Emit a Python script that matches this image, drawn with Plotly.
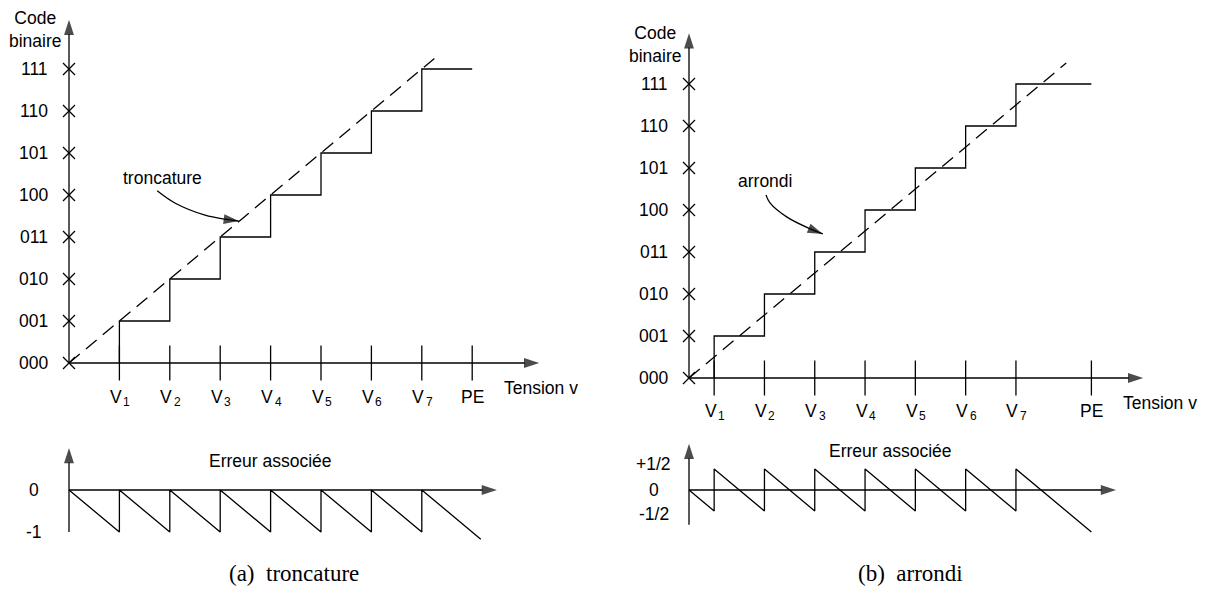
import plotly.graph_objects as go

# ---------------- data ----------------
code_labels = ["000", "001", "010", "011", "100", "101", "110", "111"]
code_levels = [0, 1, 2, 3, 4, 5, 6, 7]
thr_names = ["V", "V", "V", "V", "V", "V", "V", "PE"]
thr_index = ["1", "2", "3", "4", "5", "6", "7", ""]
thr_trunc = [1, 2, 3, 4, 5, 6, 7, 8]
thr_round = [0.5, 1.5, 2.5, 3.5, 4.5, 5.5, 6.5, 8]
ideal_trunc = [0, 7.25]
ideal_round = [0, 7.5]
err_trunc_x = [0, 1, 1, 2, 2, 3, 3, 4, 4, 5, 5, 6, 6, 7, 7, 8.17]
err_trunc_y = [0, -1, 0, -1, 0, -1, 0, -1, 0, -1, 0, -1, 0, -1, 0, -1.17]
err_round_x = [0, 0.5, 0.5, 1.5, 1.5, 2.5, 2.5, 3.5, 3.5, 4.5, 4.5, 5.5, 5.5, 6.5, 6.5, 8.0]
err_round_y = [0, -0.5, 0.5, -0.5, 0.5, -0.5, 0.5, -0.5, 0.5, -0.5, 0.5, -0.5, 0.5, -0.5, 0.5, -1.0]
err_trunc_labels = ["0", "-1"]
err_trunc_levels = [0, -1]
err_round_labels = ["+1/2", "0", "-1/2"]
err_round_levels = [0.5, 0, -0.5]
# callout paths (data units), last point = arrow tip
callout_trunc_x = [1.75, 2.10, 2.70, 3.12, 3.37]
callout_trunc_y = [4.10, 3.81, 3.52, 3.42, 3.38]
callout_round_x = [1.53, 1.61, 1.95, 2.41, 2.66]
callout_round_y = [4.36, 4.17, 3.83, 3.55, 3.43]

# ---------------- layout helpers ----------------
OFF = 8                      # page body margin of the html page
W, H = 1206 - OFF, 591 - OFF
FONT = "Liberation Sans, Arial, sans-serif"
SERIF = "Liberation Serif, Times New Roman, serif"
FS = 17.5
LW = 1.3
HEAD = 16


def xdom(origin, unit, rng):
    o = origin - OFF
    return [(o + rng[0] * unit) / W, (o + rng[1] * unit) / W]


def ydom(origin, unit, rng):
    o = origin - OFF
    top = o - rng[1] * unit
    bot = o - rng[0] * unit
    return [1 - bot / H, 1 - top / H]


panels = {
    # name: (x origin px, x unit, y origin px, y unit, xrange, yrange)   (screen px)
    "1": (69, 50.4, 363, 42, [-0.8, 9.95], [-1.0, 8.4]),    # left main
    "2": (69, 50.4, 490, 42, [-0.8, 9.95], [-2.3, 1.3]),    # left error
    "3": (689, 50.3, 378, 42, [-0.8, 9.95], [-1.0, 8.4]),   # right main
    "4": (689, 50.3, 490, 42, [-0.8, 9.95], [-2.3, 1.3]),   # right error
}

fig = go.Figure()
layout_axes = {}
for k, (xo, xu, yo, yu, xr, yr) in panels.items():
    xn = "xaxis" if k == "1" else f"xaxis{k}"
    yn = "yaxis" if k == "1" else f"yaxis{k}"
    layout_axes[xn] = dict(domain=xdom(xo, xu, xr), range=xr, visible=False,
                           anchor="y" if k == "1" else f"y{k}", fixedrange=True)
    layout_axes[yn] = dict(domain=ydom(yo, yu, yr), range=yr, visible=False,
                           anchor="x" if k == "1" else f"x{k}", fixedrange=True)

annotations = []


def ref(k):
    return ("x", "y") if k == "1" else (f"x{k}", f"y{k}")


def arrow_line(k, xs, ys, shape="linear"):
    xr, yr = ref(k)
    sizes = [0] * (len(xs) - 1) + [HEAD]
    fig.add_trace(go.Scatter(x=xs, y=ys, mode="lines+markers", line_shape=shape,
                             line=dict(color="black", width=LW),
                             marker=dict(symbol="arrow", angleref="previous", size=sizes,
                                         color="black", line=dict(width=0)),
                             xaxis=xr, yaxis=yr, showlegend=False, hoverinfo="skip",
                             cliponaxis=False))


def text(k, x, y, s, size=FS, xanchor="center", font=FONT, xshift=0, yshift=0):
    xr, yr = ref(k)
    annotations.append(dict(x=x, y=y, xref=xr, yref=yr, text=s, showarrow=False,
                            xanchor=xanchor, yanchor="middle", xshift=xshift, yshift=yshift,
                            font=dict(family=font, size=size, color="black")))


def main_panel(k, thr, ideal, ytip, xtip, vlab_y, callx, cally, call_text, call_pos):
    xr, yr = ref(k)
    # staircase
    fig.add_trace(go.Scatter(x=thr, y=code_levels, mode="lines", line_shape="vh",
                             line=dict(color="black", width=LW), xaxis=xr, yaxis=yr,
                             showlegend=False, hoverinfo="skip"))
    # ideal line
    fig.add_trace(go.Scatter(x=ideal, y=ideal, mode="lines",
                             line=dict(color="black", width=LW, dash="14px,8px"),
                             xaxis=xr, yaxis=yr, showlegend=False, hoverinfo="skip"))
    # axes with arrows
    arrow_line(k, [0, 0], [0, ytip])
    arrow_line(k, [0, xtip], [0, 0])
    # cross markers on y axis
    fig.add_trace(go.Scatter(x=[0] * len(code_levels), y=code_levels, mode="markers",
                             marker=dict(symbol="x-thin", size=12, line=dict(color="black", width=LW)),
                             xaxis=xr, yaxis=yr, showlegend=False, hoverinfo="skip", cliponaxis=False))
    # ticks on x axis
    fig.add_trace(go.Scatter(x=thr, y=[0] * len(thr), mode="markers",
                             marker=dict(symbol="line-ns", size=25, line=dict(color="black", width=LW)),
                             xaxis=xr, yaxis=yr, showlegend=False, hoverinfo="skip", cliponaxis=False))
    for lab, lv in zip(code_labels, code_levels):
        text(k, -0.38, lv, lab, xanchor="right")
    for name, idx, v in zip(thr_names, thr_index, thr):
        if idx:
            text(k, v, vlab_y, name, xshift=-3.5)
            text(k, v, vlab_y, idx, size=12, xanchor="left", xshift=2, yshift=-5)
        else:
            text(k, v, vlab_y, name)
    text(k, -0.67, 8.0, "Code<br>binaire", yshift=-2)
    text(k, 9.37, -0.6, "Tension v")
    # callout
    arrow_line(k, callx, cally, shape="spline")
    text(k, call_pos[0], call_pos[1], call_text)


def err_panel(k, ex, ey, labels, levels, shifts, ybot, ytop, title_y, caption, cap_x):
    xr, yr = ref(k)
    fig.add_trace(go.Scatter(x=ex, y=ey, mode="lines", line=dict(color="black", width=LW),
                             xaxis=xr, yaxis=yr, showlegend=False, hoverinfo="skip"))
    arrow_line(k, [0, 0], [ybot, ytop])
    arrow_line(k, [0, 8.49], [0, 0])
    for lab, lv, sh in zip(labels, levels, shifts):
        text(k, -0.7, lv, lab, yshift=sh)
    text(k, 4.0, title_y, "Erreur associée")
    text(k, cap_x, -1.98, caption, size=23, font=SERIF)


main_panel("1", thr_trunc, ideal_trunc, 8.17, 9.33, -0.82,
           callout_trunc_x, callout_trunc_y, "troncature", (1.85, 4.4))
main_panel("3", thr_round, ideal_round, 8.21, 9.03, -0.78,
           callout_round_x, callout_round_y, "arrondi", (1.51, 4.69))
err_panel("2", err_trunc_x, err_trunc_y, err_trunc_labels, err_trunc_levels, [0, 0],
          -1.0, 1.0, 0.69, "(a)  troncature", 4.46)
err_panel("4", err_round_x, err_round_y, err_round_labels, err_round_levels, [5, 0, -3],
          -0.83, 1.1, 0.93, "(b)  arrondi", 4.41)

fig.update_layout(width=W, height=H, margin=dict(l=0, r=0, t=0, b=0, pad=0),
                  paper_bgcolor="white", plot_bgcolor="white", showlegend=False,
                  annotations=annotations, **layout_axes)

fig.write_html("out.html")
